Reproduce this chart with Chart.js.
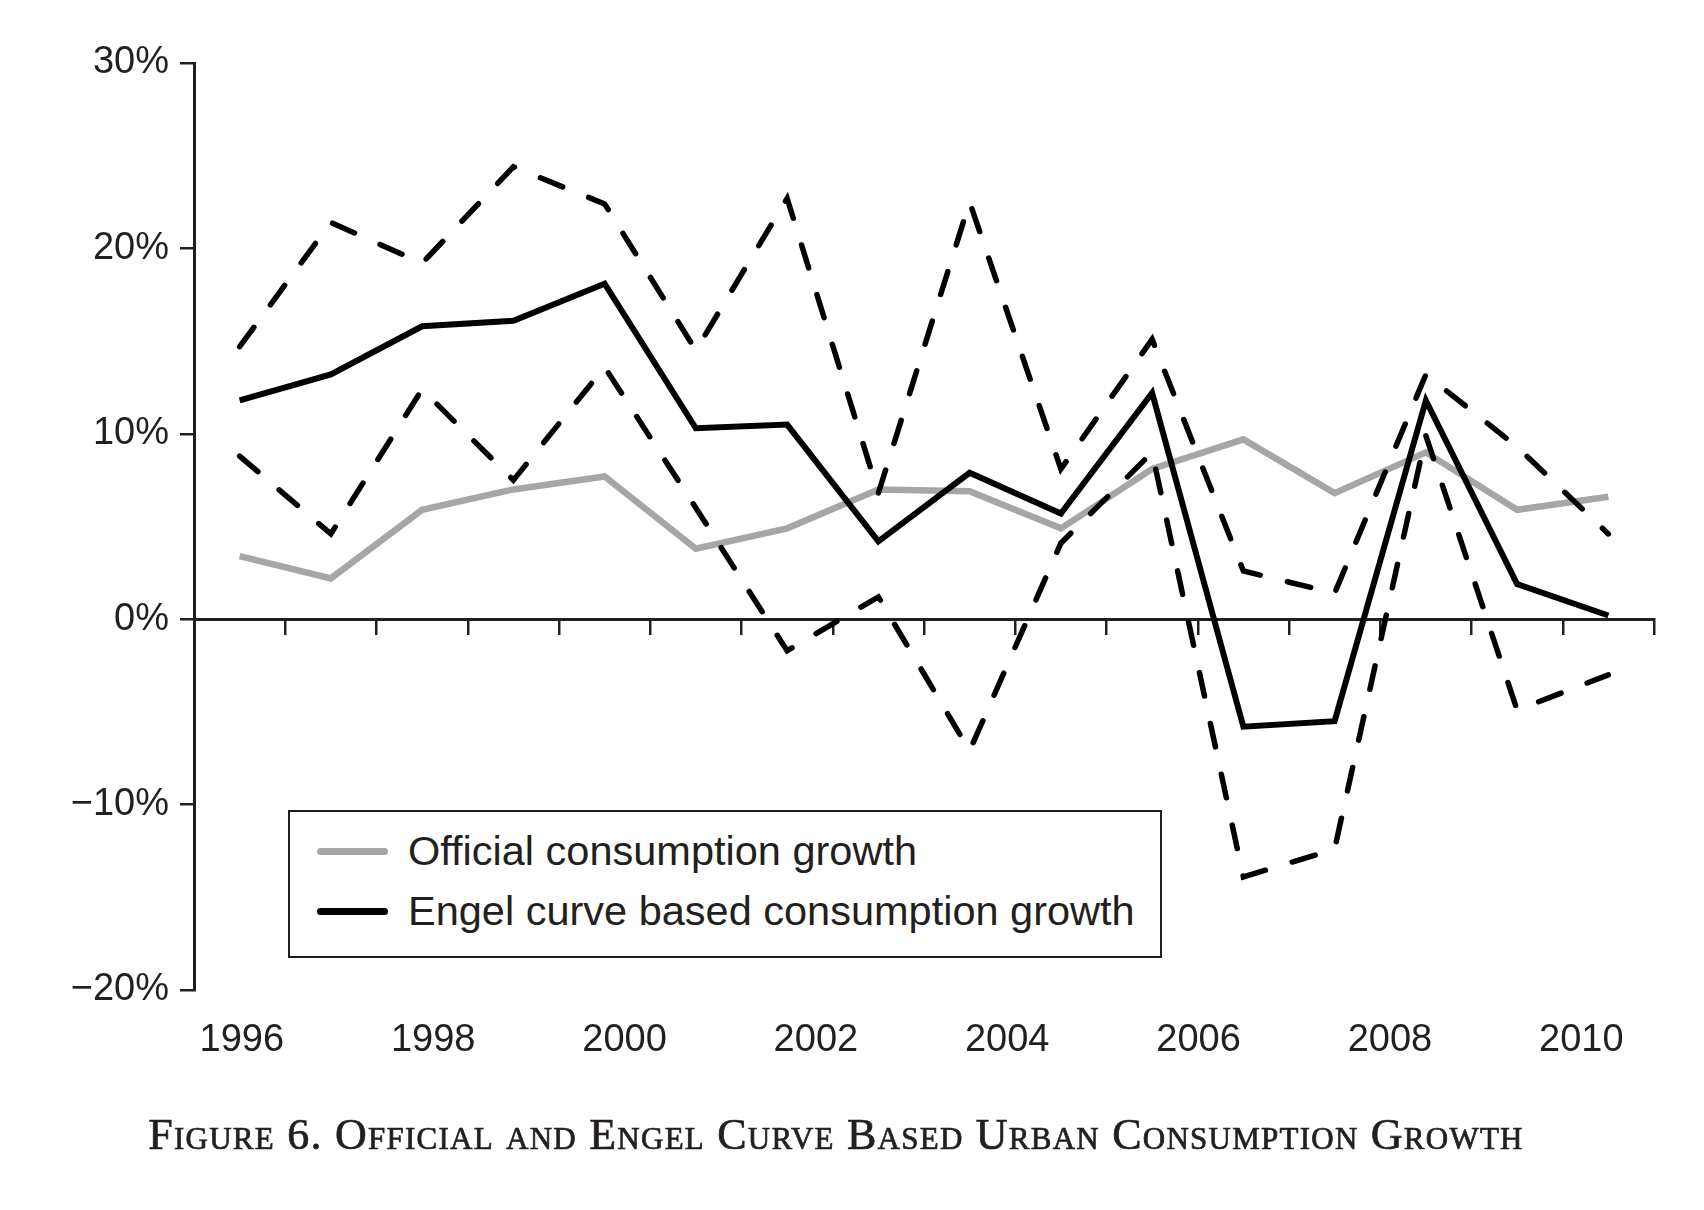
<!DOCTYPE html>
<html>
<head>
<meta charset="utf-8">
<script src="https://cdn.jsdelivr.net/npm/chart.js@4"></script>
<style>
body { margin: 0; background: #fff; }
#wrap { position: relative; width: 1704px; height: 1210px; }
#legend { position: absolute; left: 288px; top: 810px; width: 874px; height: 148px; border: 2px solid #231f20; box-sizing: border-box; background: #fff;
  font: 41.5px "Liberation Sans", Arial, sans-serif; color: #231f20; }
.row { position: absolute; left: 27px; height: 50px; display: flex; align-items: center; white-space: nowrap; }
.swatch { width: 71px; height: 7px; border-radius: 4px; margin-right: 20px; }
#title { position: absolute; top: 1109px; left: -16px; width: 1704px; text-align: center; line-height: 48px; letter-spacing: 1.25px;
  font: 44px "Liberation Serif", serif; font-variant: small-caps; color: #231f20; -webkit-text-stroke: 0.7px #231f20; }
</style>
</head>
<body>
<div id="wrap">
  <canvas id="myChart" width="1704" height="1210"></canvas>
  <div id="legend">
    <div class="row" style="top:14px"><span class="swatch" style="background:#a6a6a6"></span>Official consumption growth</div>
    <div class="row" style="top:74px"><span class="swatch" style="background:#000"></span>Engel curve based consumption growth</div>
  </div>
  <div id="title">Figure 6. Official and Engel Curve Based Urban Consumption Growth</div>
</div>
<script>
const years = ['1996', '1997', '1998', '1999', '2000', '2001', '2002', '2003', '2004', '2005', '2006', '2007', '2008', '2009', '2010', '2011'];
const yearTicks = [1996, 1998, 2000, 2002, 2004, 2006, 2008, 2010];

const official = [3.4, 2.2, 5.9, 7.0, 7.7, 3.8, 4.9, 7.0, 6.9, 4.9, 8.1, 9.7, 6.8, 9.0, 5.9, 6.6];
const engel = [11.8, 13.2, 15.8, 16.1, 18.1, 10.3, 10.5, 4.2, 7.9, 5.7, 12.2, -5.8, -5.5, 11.8, 1.9, 0.2];
const engelUpper = [14.7, 21.4, 19.2, 24.4, 22.4, 14.5, 22.7, 6.8, 22.5, 8.1, 15.1, 2.6, 1.4, 13.2, 9.3, 4.6];
const engelLower = [8.8, 4.6, 12.4, 7.5, 13.6, 6.0, -1.7, 1.2, -7.1, 4.1, 9.0, -13.9, -12.4, 9.9, -4.9, -3.0];

const ink = '#231f20';
const labelFont = { family: '"Liberation Sans", Arial, sans-serif', size: 38 };

function dashed(values) {
    return {
        data: values,
        borderColor: '#000',
        borderWidth: 5.5,
        borderDash: [24, 28],
        borderCapStyle: 'round',
        order: 1
    };
}

var config = {
    type: 'line',
    data: {
        labels: years,
        datasets: [
            { label: 'Engel curve based consumption growth', data: engel, borderColor: '#000', borderWidth: 6, order: 0 },
            dashed(engelUpper),
            dashed(engelLower),
            { label: 'Official consumption growth', data: official, borderColor: '#a6a6a6', borderWidth: 6.5, order: 2 }
        ]
    },
    options: {
        responsive: false,
        devicePixelRatio: 1,
        animation: false,
        layout: { padding: { top: 63, right: 50, bottom: 140, left: 0 } },
        elements: {
            point: { radius: 0 },
            line: { tension: 0, borderJoinStyle: 'miter', fill: false }
        },
        plugins: { legend: { display: false }, tooltip: { enabled: false } },
        scales: {
            x: {
                type: 'category',
                position: { y: 0 },
                offset: true,
                grid: { offset: true, drawOnChartArea: false, tickLength: 14, color: ink, lineWidth: 2.5 },
                border: { color: ink, width: 3 },
                ticks: { display: false },
                afterFit: s => { s.height = 0; }
            },
            yr: {
                type: 'linear',
                position: 'bottom',
                min: 1995.5,
                max: 2010.76,
                afterBuildTicks: s => { s.ticks = yearTicks.map(v => ({ value: v })); },
                grid: { display: false },
                border: { display: false },
                ticks: { font: labelFont, color: ink, padding: 20, maxRotation: 0, autoSkip: false, callback: v => String(v) },
                afterFit: s => { s.height = 80; }
            },
            y: {
                min: -20,
                max: 30,
                ticks: {
                    stepSize: 10,
                    padding: 11,
                    font: labelFont,
                    color: ink,
                    callback: v => (v < 0 ? '\u2212' + Math.abs(v) : v) + '%'
                },
                grid: { drawOnChartArea: false, tickLength: 14, color: ink, lineWidth: 2.5 },
                border: { color: ink, width: 3 },
                afterFit: s => { s.width = 194; }
            }
        }
    }
};

const myChart = new Chart(document.getElementById('myChart'), config);
</script>
</body>
</html>
